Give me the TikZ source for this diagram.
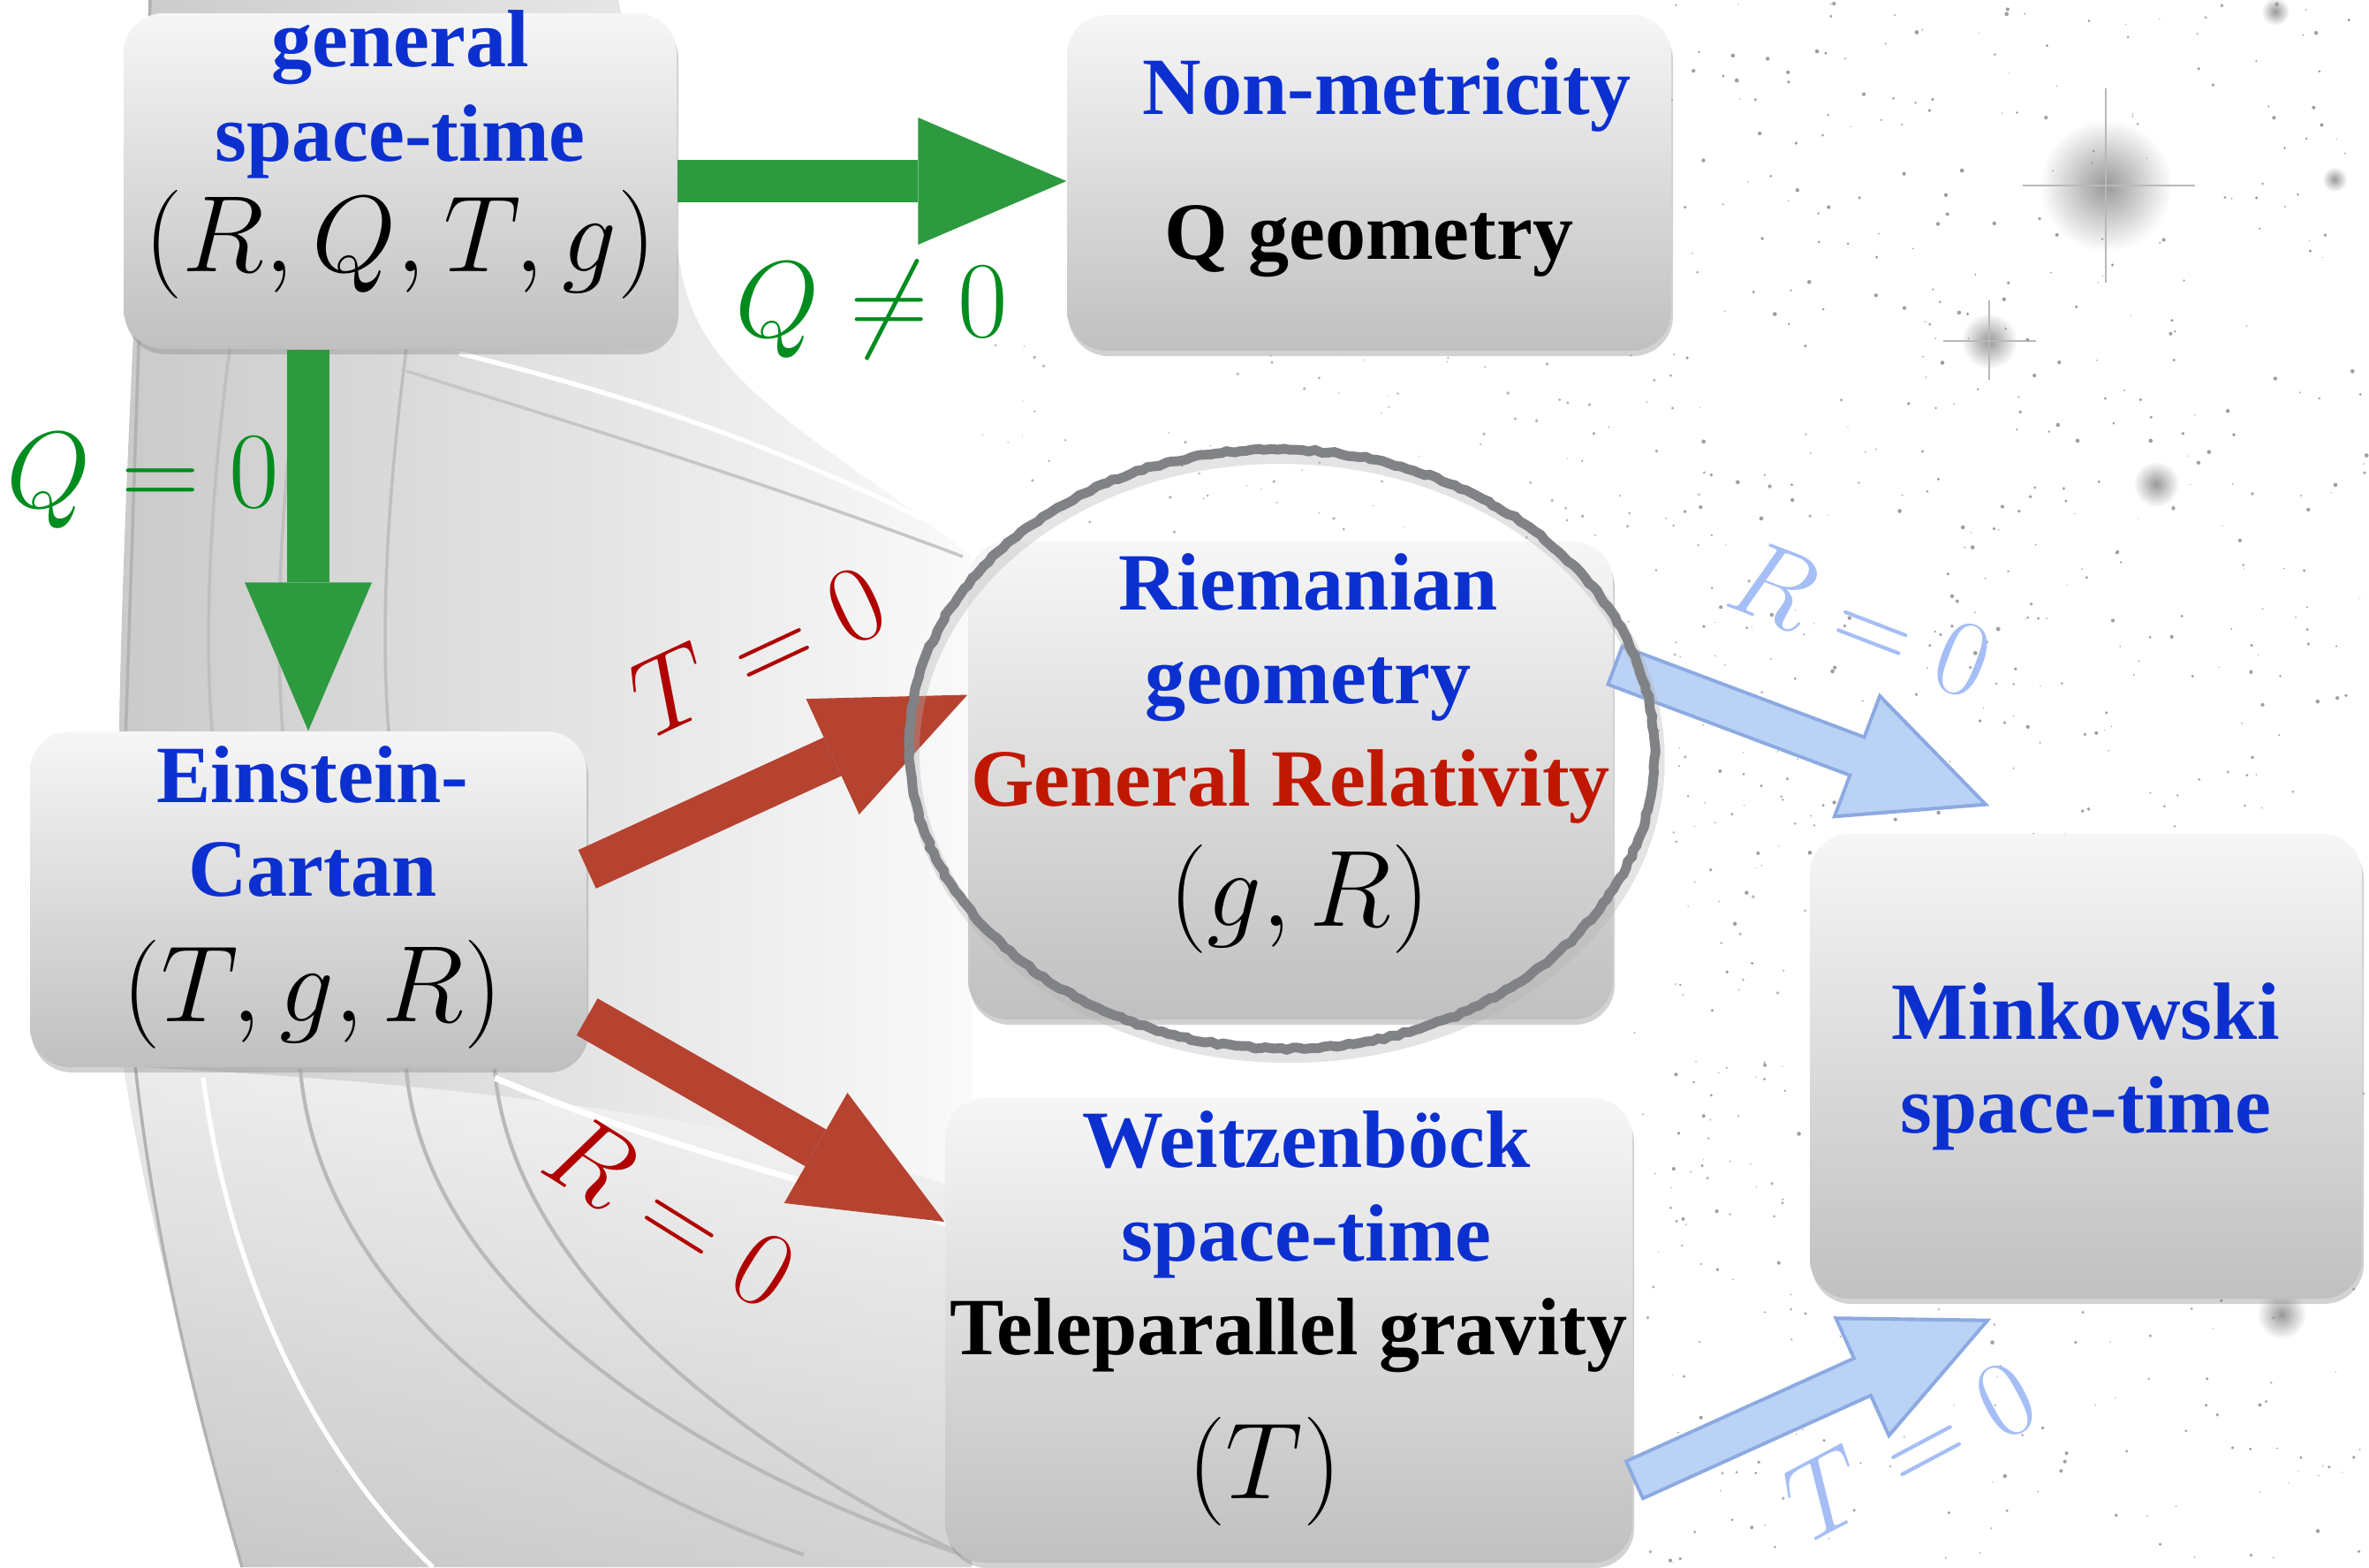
\RequirePackage{fix-cm}
\documentclass[tikz,border=0pt]{standalone}
\usepackage[no-math]{fontspec}
\setmainfont{Liberation Serif}
\usetikzlibrary{arrows.meta,shadows,decorations.pathmorphing}

\definecolor{txtblue}{RGB}{12,48,208}
\definecolor{grarrow}{RGB}{46,154,64}
\definecolor{grtext}{RGB}{0,140,30}
\definecolor{rdarrow}{RGB}{182,66,48}
\definecolor{rdtext}{RGB}{176,0,0}
\definecolor{grtitle}{RGB}{192,24,0}
\definecolor{blfill}{RGB}{185,210,245}
\definecolor{bledge}{RGB}{140,170,225}
\definecolor{bltext}{RGB}{165,190,245}
\definecolor{boxtop}{RGB}{246,246,246}
\definecolor{boxbot}{RGB}{192,192,192}
\definecolor{ringgray}{RGB}{128,130,134}

\newcommand{\mathsz}{\fontsize{35}{40}\selectfont}

\tikzset{
  geo/.style={rounded corners=0.45cm, top color=boxtop, bottom color=boxbot, inner sep=0pt,
    drop shadow={opacity=0.35, shadow xshift=0.02cm, shadow yshift=-0.06cm}},
  words/.style={align=center, inner sep=0pt, font=\fontsize{26.2}{30.2}\selectfont\bfseries},
  cond/.style={inner sep=0pt, font=\mathsz},
  fat/.style={line width=0.48cm, -{Triangle[length=1.68cm,width=1.44cm,line width=0pt]}},
  paleedge/.style={line width=0.50cm, draw=bledge, -{Triangle[length=1.62cm,width=1.52cm,line width=0pt]}},
  palefill/.style={line width=0.42cm, draw=blfill, -{Triangle[length=1.485cm,width=1.39cm,line width=0pt]},
    shorten >=0.095cm, shorten <=0.04cm},
}

\begin{document}
\begin{tikzpicture}
\useasboundingbox (0,0) rectangle (26.82,-17.74);
\fill[white] (0,0) rectangle (26.82,-17.74);

% swirl behind the left boxes
\shade[left color=gray!42, right color=gray!4]
  (1.7,0) .. controls (1.5,-4) and (1.2,-9) .. (1.4,-12.07)
  .. controls (1.7,-14) and (2.3,-16) .. (2.74,-17.74) -- (11.0,-17.74) -- (11.0,-6.3)
  .. controls (9.4,-5.0) and (7.9,-4.4) .. (7.7,-3.0) -- (7.0,0) -- cycle;
\shade[top color=gray!6, bottom color=gray!45, opacity=0.75]
  (1.4,-12.07) .. controls (1.7,-14) and (2.3,-16) .. (2.74,-17.74) -- (11.0,-17.74) -- (11.0,-13.5)
  .. controls (9,-12.8) and (6,-12.3) .. (1.4,-12.07);
\draw[gray!60, line width=1pt] (2.74,-17.74) .. controls (2.1,-15.5) and (1.3,-12.5) .. (1.4,-9)
  .. controls (1.5,-6) and (1.6,-3) .. (1.7,0);
\foreach \a/\b/\c in {3.4/6.0/9.1, 4.6/7.6/10.9, 5.6/8.6/10.9}
  \draw[gray!55, line width=1.2pt] (\a,-12.1) .. controls (\a+0.2,-14.5) and (\b,-16.5) .. (\c,-17.6);
\draw[white, line width=2pt] (5.6,-12.2) .. controls (7.0,-12.8) and (8.5,-13.2) .. (10.9,-13.9);
\draw[white, line width=1.5pt] (2.3,-12.2) .. controls (2.6,-14.5) and (3.6,-16.5) .. (4.9,-17.74);
\foreach \a in {2.6, 3.4, 4.6}
  \draw[gray!50, line width=1pt] (\a,-3.95) .. controls (\a-0.2,-5.5) and (\a-0.3,-7) .. (\a-0.2,-8.28);
\draw[gray!45, line width=1pt] (4.6,-4.2) .. controls (6.5,-4.8) and (8.5,-5.4) .. (10.9,-6.3);
\draw[white, line width=1.5pt] (5.2,-4.0) .. controls (6.8,-4.4) and (8.5,-4.9) .. (10.5,-5.9);

% star field
\foreach \x/\y/\r in {23.84/-2.10/0.75, 22.52/-3.86/0.32, 24.41/-5.48/0.26, 25.76/-0.13/0.16,
  26.43/-2.03/0.14, 25.83/-14.88/0.28, 22.20/-10.90/0.18}
  \shade[inner color=gray!80, outer color=white] (\x,\y) circle (\r);
\draw[gray!55, line width=0.6pt] (23.84,-1.0) -- (23.84,-3.2) (22.9,-2.1) -- (24.85,-2.1);
\draw[gray!55, line width=0.5pt] (22.52,-3.4) -- (22.52,-4.3) (22.0,-3.86) -- (23.05,-3.86);
\pgfmathsetseed{11}
\foreach \i in {1,...,700}
  \fill[gray!75] (18.9+7.9*rnd,-17.74*rnd) circle (0.006+0.018*rnd);
\foreach \i in {1,...,90}
  \fill[gray!60] (11+8*rnd,-3.9-2.3*rnd) circle (0.006+0.014*rnd);
\foreach \i in {1,...,70}
  \fill[gray!60] (18.4+2*rnd,-6-11.7*rnd) circle (0.006+0.014*rnd);

% boxes
\node[geo, minimum width=6.26cm, minimum height=3.80cm] (gen) at (4.53,-2.05) {};
\node[geo, minimum width=6.84cm, minimum height=3.80cm] (nonmet) at (15.50,-2.07) {};
\node[geo, minimum width=6.30cm, minimum height=3.80cm] (ec) at (3.49,-10.18) {};
\node[geo, minimum width=7.30cm, minimum height=5.41cm] (riem) at (14.61,-8.835) {};
\node[geo, minimum width=7.78cm, minimum height=5.26cm] (weitz) at (14.59,-15.06) {};
\node[geo, minimum width=6.25cm, minimum height=5.26cm] (mink) at (23.615,-12.07) {};

\node[words] (gen-t) at ([yshift=0.30cm]gen.center)
  {\textcolor{txtblue}{general}\\\textcolor{txtblue}{space-time}\\[0.1cm]{\mathsz$(R,Q,T,g)$}};
\node[words] (nonmet-t) at ([yshift=0.17cm]nonmet.center)
  {\hspace*{0.4cm}\textcolor{txtblue}{Non-metricity}\\[0.58cm]Q geometry};
\node[words] (ec-t) at ([xshift=0.05cm,yshift=0.02cm]ec.center)
  {\textcolor{txtblue}{Einstein-}\\\textcolor{txtblue}{Cartan}\\[0.36cm]{\mathsz$(T,g,R)$}};
\node[words] (riem-t) at ([xshift=0.0cm,yshift=0.31cm]riem.center)
  {\hspace*{0.4cm}\textcolor{txtblue}{Riemanian}\\\hspace*{0.4cm}\textcolor{txtblue}{geometry}\\[0.1cm]%
   \textcolor{grtitle}{General Relativity}\\[0.2cm]\hspace*{0.2cm}{\mathsz$(g,R)$}};
\node[words] (weitz-t) at ([yshift=0.14cm]weitz.center)
  {\hspace*{0.4cm}\textcolor{txtblue}{Weitzenböck}\\\hspace*{0.4cm}\textcolor{txtblue}{space-time}\\%
   Teleparallel gravity\\[0.47cm]\hspace*{-0.55cm}{\mathsz$(T)$}};
\node[words] (mink-t) at (mink.center)
  {\textcolor{txtblue}{Minkowski}\\\textcolor{txtblue}{space-time}};

% arrows
\draw[fat, grarrow] (gen.east) -- (gen.east -| nonmet.west);
\draw[fat, grarrow] (gen.south -| ec.north) -- (ec.north);
\draw[fat, rdarrow] ([yshift=0.34cm]ec.east) -- ([yshift=0.97cm]riem.west);
\draw[fat, rdarrow] ([yshift=-1.33cm]ec.east) -- ([yshift=1.23cm]weitz.west);
\draw[paleedge] ([yshift=1.31cm]riem.east) -- ([xshift=2.04cm,yshift=0.31cm]mink.north west);
\draw[palefill] ([yshift=1.31cm]riem.east) -- ([xshift=2.04cm,yshift=0.31cm]mink.north west);
\draw[paleedge] ([yshift=-1.70cm]weitz.east) -- ([xshift=2.06cm,yshift=-0.22cm]mink.south west);
\draw[palefill] ([yshift=-1.70cm]weitz.east) -- ([xshift=2.06cm,yshift=-0.22cm]mink.south west);

% conditions
\node[cond, text=grtext] (qne) at (9.87,-3.51) {$Q\neq0$};
\node[cond, text=grtext] (qeq) at (1.62,-5.44) {$Q=0$};
\node[cond, text=rdtext, rotate=25] (teq) at (8.58,-7.35) {$T=0$};
\node[cond, text=rdtext, rotate=-32] (req) at (7.60,-13.70) {$R=0$};
\node[cond, text=bltext, rotate=-21] (req2) at (21.07,-7.00) {$R=0$};
\node[cond, text=bltext, rotate=28] (teq2) at (21.62,-16.40) {$T=0$};

% ring round the Riemanian box
\draw[gray!60, opacity=0.35, line width=0.16cm, rotate around={-1.5:(14.51,-8.48)}]
  (14.55,-8.56) ellipse [x radius=4.22cm, y radius=3.39cm];
\draw[ringgray, line width=0.11cm, rotate around={-1.5:(14.51,-8.48)},
  decorate, decoration={random steps, segment length=2pt, amplitude=0.4pt}]
  (14.51,-8.48) ellipse [x radius=4.22cm, y radius=3.39cm];
\end{tikzpicture}
\end{document}
